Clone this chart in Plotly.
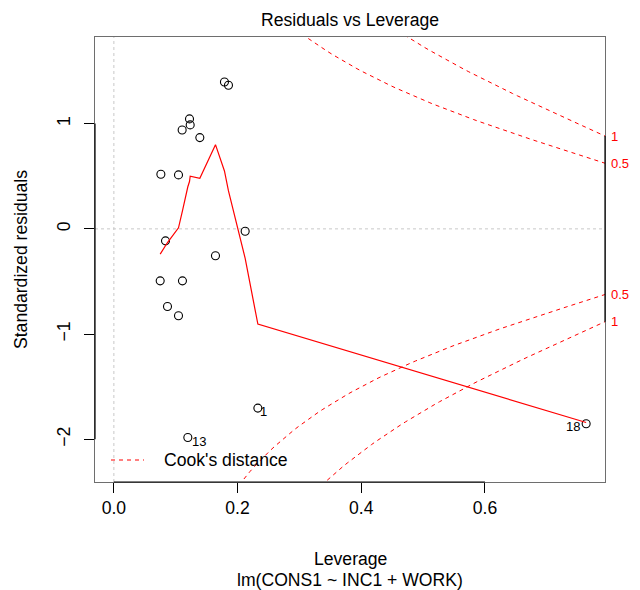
import numpy as np
import plotly.graph_objects as go

# ---- data ----
obs_id = list(range(1, 19))
leverage = [0.2328, 0.1788, 0.1853, 0.1223, 0.1234, 0.1104, 0.1390, 0.0760, 0.1045,
            0.2123, 0.0835, 0.1643, 0.1196, 0.0749, 0.1109, 0.0867, 0.1045, 0.7636]
std_resid = [-1.703, 1.396, 1.365, 1.045, 0.988, 0.940, 0.867, 0.519, 0.513,
             -0.022, -0.114, -0.256, -1.982, -0.494, -0.494, -0.738, -0.826, -1.852]
# smoother (red line) vertices
smooth_x = [0.0749, 0.0760, 0.0835, 0.0867, 0.1045, 0.1104, 0.1109, 0.1196, 0.1223,
            0.1234, 0.1390, 0.1643, 0.1788, 0.1853, 0.2123, 0.2328, 0.7636]
smooth_y = [-0.24, -0.23, -0.16, -0.13, 0.01, 0.15, 0.17, 0.40, 0.45,
            0.50, 0.48, 0.80, 0.55, 0.36, -0.28, -0.905, -1.84]
labelled_ids = [1, 13, 18]
label_shift = {1: (6, -3), 13: (11, -4), 18: (-13, -3)}
cook_levels = [0.5, 1.0]
n_coef = 3
x_ticks = [0.0, 0.2, 0.4, 0.6]
x_tick_text = ["0.0", "0.2", "0.4", "0.6"]
y_ticks = [-2, -1, 0, 1]
y_tick_text = ["\u22122", "\u22121", "0", "1"]
caption = "lm(CONS1 ~ INC1 + WORK)"

XR = [-0.0305, 0.7941]
YR = [-2.405, 1.823]
FONT = "Liberation Sans, Arial, Helvetica, sans-serif"
FS = 17.6
RED = "#ff0000"

fig = go.Figure()

# reference dotted gray lines
fig.add_shape(type="line", xref="x", yref="paper", x0=0, x1=0, y0=0, y1=1,
              line=dict(color="#c8c8c8", width=1, dash="dot"), layer="below")
fig.add_shape(type="line", xref="paper", yref="y", x0=0, x1=1, y0=0, y1=0,
              line=dict(color="#c8c8c8", width=1, dash="dot"), layer="below")

# points
fig.add_trace(go.Scatter(x=leverage, y=std_resid, mode="markers",
                         marker=dict(symbol="circle-open", size=8, color="black",
                                     line=dict(width=1.1, color="black")),
                         showlegend=False, hoverinfo="x+y"))
# smoother
fig.add_trace(go.Scatter(x=smooth_x, y=smooth_y, mode="lines",
                         line=dict(color=RED, width=1.2), showlegend=False))

# Cook's distance contours
hh = np.linspace(min(min(leverage), max(leverage) / 100), XR[1], 101)
right_labels = []
for lev in cook_levels:
    cl = np.sqrt(lev * n_coef * (1 - hh) / hh)
    for sgn in (1, -1):
        fig.add_trace(go.Scatter(x=hh, y=sgn * cl, mode="lines",
                                 line=dict(color=RED, width=1, dash="4px,4px"),
                                 showlegend=False, hoverinfo="skip"))
        right_labels.append((sgn * cl[-1], f"{lev:g}"))

annotations = []
for yv, txt in right_labels:
    annotations.append(dict(x=1, xref="paper", y=yv, yref="y", text=txt,
                            showarrow=False, xanchor="left", yanchor="middle",
                            xshift=4, font=dict(size=13, color=RED, family=FONT)))

# point id labels
for i in labelled_ids:
    dx, dy = label_shift[i]
    annotations.append(dict(x=leverage[i - 1], y=std_resid[i - 1], xref="x", yref="y",
                            text=str(i), showarrow=False, xshift=dx, yshift=dy,
                            font=dict(size=13, color="black", family=FONT)))

# titles
W, H = 640, 590
L, R, T, B = 95, 35, 37, 108
pw, ph = W - L - R, H - T - B
def px(xp):
    return (xp - L) / pw
def py(yp):
    return (H - B - yp) / ph

annotations += [
    dict(x=px(350), y=py(20), xref="paper", yref="paper", text="Residuals vs Leverage",
         showarrow=False, xanchor="center", yanchor="middle",
         font=dict(size=FS, color="black", family=FONT)),
    dict(x=px(350), y=py(559), xref="paper", yref="paper", text="Leverage",
         showarrow=False, xanchor="center", yanchor="middle",
         font=dict(size=FS, color="black", family=FONT)),
    dict(x=px(350), y=py(580), xref="paper", yref="paper", text=caption,
         showarrow=False, xanchor="center", yanchor="middle",
         font=dict(size=FS, color="black", family=FONT)),
    dict(x=px(21), y=py(260), xref="paper", yref="paper", text="Standardized residuals",
         showarrow=False, xanchor="center", yanchor="middle", textangle=-90,
         font=dict(size=FS, color="black", family=FONT)),
    dict(x=px(162), y=py(460), xref="paper", yref="paper", text="Cook's distance",
         showarrow=False, xanchor="left", yanchor="middle",
         font=dict(size=FS, color="black", family=FONT)),
]

shapes_extra = [
    # legend sample
    dict(type="line", xref="paper", yref="paper", x0=px(111), x1=px(144),
         y0=py(460), y1=py(460), line=dict(color=RED, width=1, dash="4px,4px")),
    # dark axis segments
    dict(type="line", xref="paper", yref="y", x0=0, x1=0, y0=y_ticks[0], y1=y_ticks[-1],
         line=dict(color="black", width=1.2)),
    dict(type="line", xref="x", yref="paper", x0=x_ticks[0], x1=x_ticks[-1], y0=0, y1=0,
         line=dict(color="black", width=1.2)),
    dict(type="line", xref="paper", yref="y", x0=1, x1=1,
         y0=min(v for v, _ in right_labels), y1=max(v for v, _ in right_labels),
         line=dict(color="black", width=1.2)),
]
for s in shapes_extra:
    fig.add_shape(**s)

fig.update_layout(
    width=W, height=H,
    margin=dict(l=L, r=R, t=T, b=B, pad=0),
    paper_bgcolor="white", plot_bgcolor="white",
    showlegend=False,
    font=dict(family=FONT, size=FS, color="black"),
    annotations=annotations,
    xaxis=dict(range=XR, tickvals=x_ticks, ticktext=x_tick_text, showgrid=False,
               zeroline=False, showline=True, mirror=True, linecolor="#6e6e6e",
               linewidth=1.2, ticks="outside", ticklen=10, tickcolor="black",
               tickwidth=1.2, tickfont=dict(size=FS, family=FONT, color="black")),
    yaxis=dict(range=YR, tickvals=y_ticks, ticktext=y_tick_text, showgrid=False,
               zeroline=False, showline=True, mirror=True, linecolor="#6e6e6e",
               linewidth=1.2, ticks="outside", ticklen=10, tickcolor="black",
               tickwidth=1.2, tickangle=-90, ticklabelstandoff=7,
               tickfont=dict(size=FS, family=FONT, color="black")),
)

fig.write_html("out.html", config={"displayModeBar": False},
               post_script="document.body.style.margin='0';document.body.style.overflow='hidden';")
